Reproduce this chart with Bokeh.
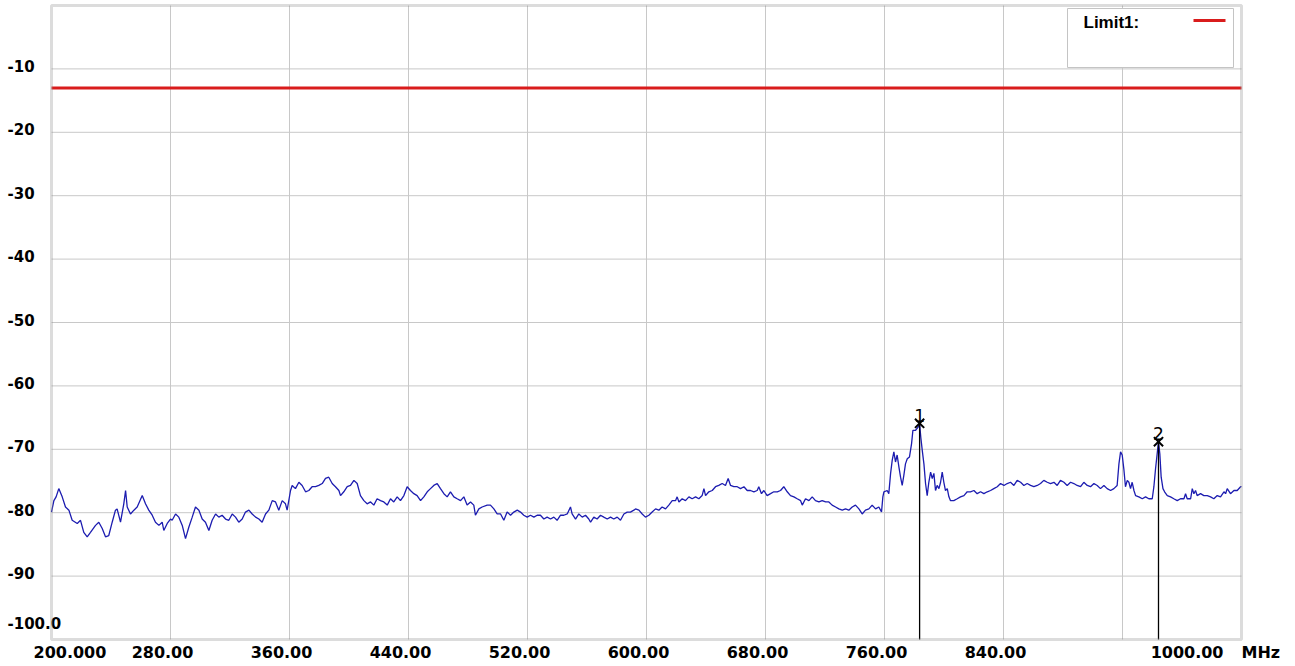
from bokeh.plotting import figure
from bokeh.models import Range1d, BoxAnnotation
from bokeh.embed import file_html
from bokeh.resources import INLINE
from bokeh.core.properties import value

# ---------------- data ----------------
freq_mhz = [
    200.0, 201.6, 203.1, 204.9, 207.2, 209.4, 211.7, 213.9, 217.3, 219.5,
    221.7, 224.0, 226.2, 229.6, 231.8, 234.1, 236.3, 238.5, 240.8, 243.0,
    244.1, 246.4, 248.6, 249.8, 250.9, 253.1, 255.4, 257.6, 261.0, 263.2,
    265.4, 267.7, 269.9, 272.2, 274.4, 275.5, 277.8, 280.0, 281.1, 283.4,
    285.6, 287.9, 290.1, 292.3, 294.6, 296.8, 299.1, 301.3, 303.5, 305.8,
    308.0, 310.3, 312.5, 314.7, 317.0, 319.2, 321.5, 323.7, 325.9, 328.2,
    330.4, 332.7, 334.9, 337.2, 339.4, 341.6, 343.9, 346.1, 348.4, 350.6,
    352.8, 355.1, 357.3, 358.4, 360.7, 361.8, 364.0, 366.3, 368.5, 370.8,
    373.0, 375.2, 377.5, 379.7, 382.0, 384.2, 386.4, 388.7, 390.9, 393.2,
    394.3, 396.5, 398.8, 401.0, 403.3, 405.5, 407.7, 410.0, 412.2, 414.5,
    416.7, 418.9, 421.2, 423.4, 425.7, 427.9, 430.1, 432.4, 434.6, 436.9,
    439.1, 441.3, 443.6, 445.8, 448.1, 450.3, 452.6, 454.8, 457.0, 459.3,
    461.5, 463.8, 466.0, 468.2, 470.5, 472.7, 475.0, 477.2, 479.4, 481.7,
    483.9, 485.0, 487.3, 489.5, 492.9, 495.1, 497.4, 499.6, 501.9, 504.1,
    506.3, 508.6, 510.8, 513.1, 515.3, 517.5, 519.8, 522.0, 524.3, 526.5,
    528.7, 531.0, 533.2, 535.5, 537.7, 539.9, 542.2, 544.4, 546.7, 548.9,
    550.0, 552.3, 554.5, 556.8, 559.0, 561.2, 562.4, 564.6, 566.8, 569.1,
    571.3, 573.6, 575.8, 578.0, 580.3, 582.5, 584.8, 587.0, 589.2, 591.5,
    592.6, 594.9, 597.1, 599.3, 601.6, 603.8, 606.1, 608.3, 610.5, 612.8,
    615.0, 617.3, 619.5, 620.6, 621.8, 624.0, 626.2, 628.5, 630.7, 633.0,
    635.2, 637.4, 638.6, 639.7, 641.9, 644.2, 646.4, 648.6, 650.9, 653.1,
    654.9, 656.5, 658.7, 661.0, 663.2, 665.5, 667.7, 669.9, 672.2, 674.4,
    675.5, 677.3, 678.9, 681.1, 683.4, 685.6, 687.9, 690.1, 692.3, 694.6,
    696.8, 699.1, 701.3, 703.6, 704.7, 706.9, 709.2, 711.4, 713.6, 715.9,
    718.1, 720.4, 722.6, 724.8, 727.1, 729.3, 731.6, 733.8, 736.0, 738.3,
    740.5, 742.8, 745.0, 747.2, 749.5, 751.7, 754.0, 756.2, 758.0, 758.9,
    759.6, 761.8, 762.9, 764.1, 765.2, 766.3, 767.4, 768.5, 769.7, 770.8,
    771.9, 773.0, 774.1, 775.3, 776.8, 778.2, 779.1, 780.9, 782.6, 783.6,
    784.4, 785.4, 786.5, 787.6, 788.7, 789.8,
    791.0, 792.1, 793.2, 794.3, 795.4, 796.6, 797.7, 798.8, 799.9, 801.0,
    802.2, 803.3, 804.4, 806.6, 808.9, 811.1, 813.4, 815.6, 817.8, 820.1,
    822.3, 824.6, 826.8, 829.1, 831.3, 833.5, 835.8, 838.0, 840.3, 842.5,
    844.7, 847.0, 849.2, 851.5, 853.7, 855.9, 858.2, 860.4, 862.7, 864.9,
    867.1, 869.4, 871.6, 873.9, 876.1, 878.3, 880.6, 882.8, 885.1, 887.3,
    889.5, 891.8, 894.0, 896.3, 898.5, 900.8, 903.0, 905.2, 907.5, 909.7,
    912.0, 914.2, 916.4, 917.6, 918.7, 919.8, 920.9, 922.0, 923.2, 924.3,
    925.4, 926.5, 927.7, 928.8, 931.0, 933.3, 935.5, 937.7, 940.0, 941.1,
    942.2, 943.3, 944.2, 945.1, 946.0, 947.2, 948.3, 950.1, 952.3, 954.5,
    956.8, 959.0, 961.3, 962.4, 963.5, 965.8, 966.9, 968.0, 969.1, 970.2,
    972.5, 974.7, 977.0, 979.2, 981.4, 983.7, 985.9, 988.2, 989.3, 990.4,
    992.6, 994.9, 997.1, 999.4, 1000.0,
]
level_dbm = [
    -79.9, -78.1, -77.5, -76.2, -77.5, -79.1, -79.6, -81.2, -81.7, -81.2,
    -83.1, -83.8, -83.1, -82.0, -81.5, -82.5, -83.8, -83.6, -81.5, -79.6,
    -79.4, -81.5, -78.6, -76.5, -79.1, -80.2, -79.6, -79.1, -77.3, -78.6,
    -79.6, -80.4, -81.5, -82.0, -81.5, -82.8, -81.7, -81.0, -81.2, -80.2,
    -80.7, -82.0, -84.1, -82.3, -80.7, -79.1, -79.6, -81.0, -81.5, -82.8,
    -81.2, -80.2, -80.7, -80.4, -81.0, -81.2, -80.2, -80.7, -81.5, -81.0,
    -79.9, -79.6, -80.2, -80.7, -81.0, -81.5, -80.2, -79.6, -78.1, -78.3,
    -79.6, -78.1, -78.6, -79.6, -76.5, -75.7, -76.2, -75.2, -75.7, -76.7,
    -76.5, -75.9, -75.9, -75.7, -75.4, -74.6, -74.4, -75.4, -75.9, -76.5,
    -77.3, -76.7, -75.9, -75.7, -74.9, -75.4, -77.3, -78.1, -78.6, -78.3,
    -78.8, -77.8, -78.1, -78.3, -78.8, -77.8, -78.3, -77.5, -78.1, -77.3,
    -75.9, -76.5, -77.0, -77.3, -78.1, -77.5, -76.7, -76.2, -75.7, -75.4,
    -76.2, -77.0, -77.5, -76.7, -77.5, -77.8, -78.1, -77.5, -78.8, -78.3,
    -78.8, -80.4, -79.4, -79.1, -78.8, -78.8, -79.4, -80.2, -80.2, -81.2,
    -79.9, -80.4, -79.9, -79.6, -79.9, -80.4, -80.7, -80.4, -80.7, -80.4,
    -80.4, -81.0, -80.7, -81.0, -80.7, -81.2, -80.4, -80.4, -80.2, -79.1,
    -80.2, -81.0, -80.2, -80.7, -80.4, -81.0, -81.5, -80.7, -81.0, -80.4,
    -80.7, -81.0, -80.7, -81.0, -80.7, -81.2, -80.2, -79.9, -79.9, -79.6,
    -79.4, -79.6, -80.2, -80.7, -80.4, -79.9, -79.4, -79.6, -79.1, -79.4,
    -78.8, -78.1, -78.1, -77.5, -78.3, -77.8, -78.1, -77.5, -77.8, -77.5,
    -77.8, -77.3, -76.2, -77.3, -76.7, -76.5, -75.9, -75.7, -75.4, -75.7,
    -74.6, -75.7, -75.9, -75.9, -76.2, -75.9, -76.5, -76.5, -76.7, -76.5,
    -75.9, -77.0, -76.5, -77.3, -77.0, -76.7, -76.7, -76.5, -75.9, -76.7,
    -77.3, -77.5, -77.8, -78.1, -78.8, -77.8, -78.1, -77.5, -78.1, -78.3,
    -78.1, -78.3, -78.3, -78.8, -79.1, -79.4, -79.6, -79.4, -79.6, -79.1,
    -78.8, -79.4, -80.2, -79.6, -79.4, -78.8, -79.4, -79.1, -79.9, -77.5,
    -76.7, -76.5, -77.0, -73.8, -71.7, -70.4, -72.0, -70.9, -72.8, -74.4,
    -75.7, -74.1, -72.3, -71.5, -71.2, -69.1, -67.0, -67.0, -66.5, -66.0,
    -68.1, -70.2, -72.3, -75.4, -77.3, -75.2,
    -73.6, -74.6, -73.8, -76.5, -75.7, -76.2, -75.2, -73.6, -75.2, -76.5,
    -76.2, -77.5, -78.1, -78.1, -77.8, -77.5, -77.3, -76.7, -76.7, -76.5,
    -77.0, -76.7, -77.0, -76.7, -76.5, -76.2, -75.9, -75.4, -75.7, -75.4,
    -75.2, -75.7, -74.9, -75.2, -75.7, -75.4, -75.7, -75.9, -75.7, -75.4,
    -74.9, -75.2, -75.4, -75.2, -75.7, -74.9, -75.2, -75.7, -75.2, -75.4,
    -75.7, -75.9, -75.2, -75.7, -75.9, -75.4, -75.7, -76.2, -75.7, -76.2,
    -76.5, -76.2, -75.7, -72.3, -70.4, -70.9, -73.1, -75.9, -74.9, -75.2,
    -76.2, -75.2, -76.5, -77.3, -77.5, -77.8, -77.5, -77.8, -77.8, -75.9,
    -73.1, -70.7, -68.8, -70.7, -74.4, -76.2, -76.7, -77.3, -77.5, -77.8,
    -78.1, -77.8, -77.8, -77.0, -77.8, -77.8, -76.2, -77.0, -76.5, -77.3,
    -77.0, -77.3, -77.3, -77.5, -77.8, -77.3, -77.5, -76.7, -77.0, -76.2,
    -77.0, -76.5, -76.5, -75.9, -75.9,
]

limit_name = "Limit1:"
limit_dbm = -13.0

marker_ids = ["1", "2"]
marker_freq = [783.6, 944.2]
marker_level = [-65.9, -68.8]

x_ticks = [200, 280, 360, 440, 520, 600, 680, 760, 840, 920, 1000]
x_tick_labels = ["200.000", "280.00", "360.00", "440.00", "520.00", "600.00",
                 "680.00", "760.00", "840.00", "", "1000.00"]
x_unit = "MHz"
y_ticks = [-10, -20, -30, -40, -50, -60, -70, -80, -90, -100]
y_tick_labels = ["-10", "-20", "-30", "-40", "-50", "-60", "-70", "-80", "-90", "-100.0"]

F0, F1 = 200, 1000
Y0, Y1 = -100, 0

# ---------------- layout (pixels) ----------------
W, H = 1294, 665
BOX_L, BOX_R, BOX_T, BOX_B = 51, 1241, 5, 639        # plot box inside the canvas
sx = (BOX_R - BOX_L) / (F1 - F0)
sy = (BOX_B - BOX_T) / (Y1 - Y0)

def px_x(px):
    return F0 + (px - BOX_L) / sx

def px_y(py):
    return Y1 - (py - BOX_T) / sy

n = min(len(freq_mhz), len(level_dbm))

p = figure(width=W, height=H,
           x_range=Range1d(px_x(0), px_x(W)), y_range=Range1d(px_y(H), px_y(0)),
           x_axis_location=None, y_axis_location=None,
           output_backend="svg", toolbar_location=None,
           min_border=0, min_border_left=0, min_border_right=0,
           min_border_top=0, min_border_bottom=0)
p.background_fill_color = "white"
p.border_fill_color = "white"
p.outline_line_color = None
p.grid.visible = False

font = value("DejaVu Sans")

# grid lines (from the tick arrays)
gx = x_ticks[1:-1]
gy = y_ticks[:-1]
p.segment(x0=gx, y0=[Y0] * len(gx), x1=gx, y1=[Y1] * len(gx),
          line_color="#c8c8c8", line_width=1)
p.segment(x0=[F0] * len(gy), y0=gy, x1=[F1] * len(gy), y1=gy,
          line_color="#c8c8c8", line_width=1)

# limit line
p.line([F0, F1], [limit_dbm, limit_dbm], line_color="#d91c1c", line_width=3)

# measured trace
p.line(freq_mhz[:n], level_dbm[:n], line_color="#1c1cb0", line_width=1.3)

# markers
p.segment(x0=marker_freq, y0=marker_level, x1=marker_freq, y1=[Y0] * len(marker_freq),
          line_color="black", line_width=1.3)
p.scatter(marker_freq, marker_level, marker="x", size=13,
          line_color="black", line_width=2)
p.text(x=marker_freq, y=marker_level, text=marker_ids, y_offset=-8,
       text_align="center", text_baseline="alphabetic",
       text_font=font, text_font_size="17px", text_color="black")

# legend (top right)
LEG_L, LEG_R, LEG_T, LEG_B = 1067, 1233, 8, 67
p.quad(left=[px_x(LEG_L)], right=[px_x(LEG_R)], top=[px_y(LEG_T)], bottom=[px_y(LEG_B)],
       fill_color="white", line_color="#c4c4c4", line_width=1)
p.text(x=[px_x(LEG_L)], y=[px_y(LEG_T)], text=[limit_name], x_offset=16, y_offset=4,
       text_align="left", text_baseline="top",
       text_font=value("Liberation Sans"), text_font_style="bold",
       text_font_size="17px", text_color="black")
p.segment(x0=[px_x(1193)], y0=[px_y(20)], x1=[px_x(1225)], y1=[px_y(20)],
          line_color="#d91c1c", line_width=3)

# y tick labels (left aligned at the canvas edge)
y_lab_dy = [-17 if v == Y0 else -3 for v in y_ticks]
p.text(x=[F0] * len(y_ticks), y=y_ticks, text=y_tick_labels,
       x_offset=-(BOX_L - 7), y_offset=y_lab_dy,
       text_align="left", text_baseline="middle",
       text_font=font, text_font_style="bold", text_font_size="15px", text_color="black")

# x tick labels
X_LAB_DY = 6
for i, (v, t) in enumerate(zip(x_ticks, x_tick_labels)):
    if not t:
        continue
    if i == 0:
        align, off = "left", -18
    elif i == len(x_ticks) - 1:
        align, off = "right", -18
    else:
        align, off = "center", -8
    p.text(x=[v], y=[Y0], text=[t], x_offset=off, y_offset=X_LAB_DY,
           text_align=align, text_baseline="top",
           text_font=font, text_font_style="bold", text_font_size="16px", text_color="black")
p.text(x=[F1], y=[Y0], text=[x_unit], x_offset=0, y_offset=X_LAB_DY - 3,
       text_align="left", text_baseline="top",
       text_font=font, text_font_style="bold", text_font_size="16px", text_color="black")

# plot box border
p.add_layout(BoxAnnotation(left=F0, right=F1, bottom=Y0, top=Y1,
                           fill_alpha=0, line_color="#8a8a8a", line_width=3))

open("out.html", "w").write(file_html(p, INLINE))
